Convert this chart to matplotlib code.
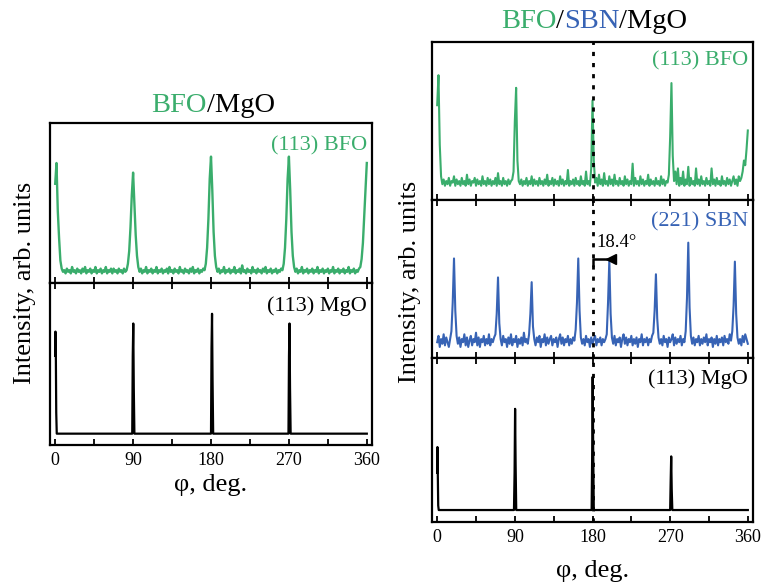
import matplotlib
matplotlib.use("Agg")
import numpy as np
import matplotlib.pyplot as plt
from matplotlib.ticker import MultipleLocator
from matplotlib.offsetbox import TextArea, HPacker, AnnotationBbox

plt.rcParams['font.family'] = ['Liberation Serif', 'DejaVu Serif']

GREEN = '#3aad6c'
BLUE = '#3763b5'

# scan step of the phi scans, 0..360 deg in 1.5 deg steps
scan_phi = np.arange(0, 360.1, 1.5)

# (113) BFO on BFO/MgO, one row = 15 deg
bfo_l_int = [0.62, 0.75, 0.45, 0.28, 0.14, 0.09, 0.07, 0.08, 0.06, 0.09,
             0.07, 0.08, 0.06, 0.10, 0.07, 0.08, 0.06, 0.09, 0.07, 0.08,
             0.06, 0.09, 0.07, 0.10, 0.06, 0.08, 0.07, 0.09, 0.06, 0.08,
             0.07, 0.10, 0.06, 0.08, 0.07, 0.09, 0.06, 0.08, 0.07, 0.10,
             0.06, 0.08, 0.07, 0.09, 0.06, 0.09, 0.07, 0.08, 0.06, 0.09,
             0.07, 0.08, 0.06, 0.09, 0.07, 0.08, 0.12, 0.20, 0.35, 0.55,
             0.69, 0.50, 0.30, 0.17, 0.10, 0.07, 0.09, 0.06, 0.08, 0.07,
             0.10, 0.06, 0.08, 0.07, 0.09, 0.06, 0.08, 0.07, 0.10, 0.06,
             0.08, 0.07, 0.09, 0.06, 0.08, 0.07, 0.09, 0.06, 0.10, 0.07,
             0.08, 0.06, 0.09, 0.07, 0.08, 0.06, 0.10, 0.07, 0.08, 0.06,
             0.09, 0.07, 0.08, 0.06, 0.09, 0.07, 0.10, 0.06, 0.08, 0.07,
             0.09, 0.06, 0.08, 0.07, 0.09, 0.08, 0.12, 0.22, 0.40, 0.65,
             0.79, 0.58, 0.32, 0.17, 0.10, 0.07, 0.09, 0.06, 0.08, 0.07,
             0.10, 0.06, 0.08, 0.07, 0.09, 0.06, 0.08, 0.07, 0.10, 0.06,
             0.08, 0.07, 0.09, 0.06, 0.11, 0.07, 0.08, 0.06, 0.09, 0.07,
             0.08, 0.06, 0.10, 0.07, 0.08, 0.06, 0.09, 0.07, 0.08, 0.06,
             0.09, 0.07, 0.10, 0.06, 0.08, 0.07, 0.09, 0.06, 0.08, 0.07,
             0.09, 0.06, 0.08, 0.07, 0.09, 0.08, 0.12, 0.22, 0.40, 0.65,
             0.79, 0.58, 0.32, 0.17, 0.10, 0.07, 0.09, 0.06, 0.08, 0.07,
             0.10, 0.06, 0.08, 0.07, 0.09, 0.06, 0.08, 0.07, 0.09, 0.06,
             0.08, 0.07, 0.10, 0.06, 0.08, 0.07, 0.09, 0.06, 0.08, 0.07,
             0.09, 0.06, 0.08, 0.07, 0.10, 0.06, 0.08, 0.07, 0.09, 0.06,
             0.08, 0.07, 0.09, 0.06, 0.08, 0.07, 0.10, 0.06, 0.08, 0.07,
             0.09, 0.06, 0.08, 0.07, 0.09, 0.10, 0.15, 0.25, 0.42, 0.60,
             0.75]

# (113) MgO on BFO/MgO (sharp substrate peaks)
mgo_l_phi = [0, 0.3, 0.7, 1.2, 1.8, 89, 89.6, 90.2, 90.8, 91.5,
             180, 180.6, 181.2, 181.8, 182.5, 269.5, 270.1, 270.7, 271.3, 272, 360]
mgo_l_int = [0.55, 0.70, 0.60, 0.20, 0.07, 0.07, 0.55, 0.75, 0.35, 0.07,
             0.07, 0.60, 0.81, 0.40, 0.07, 0.07, 0.55, 0.75, 0.35, 0.07, 0.07]

# (113) BFO on BFO/SBN/MgO
bfo_r_int = [0.60, 0.79, 0.35, 0.15, 0.10, 0.13, 0.09, 0.12, 0.10, 0.14,
             0.09, 0.12, 0.11, 0.15, 0.09, 0.13, 0.10, 0.12, 0.09, 0.14,
             0.10, 0.12, 0.09, 0.16, 0.10, 0.13, 0.09, 0.12, 0.11, 0.14,
             0.09, 0.13, 0.10, 0.12, 0.09, 0.15, 0.10, 0.12, 0.09, 0.14,
             0.10, 0.13, 0.09, 0.12, 0.10, 0.14, 0.09, 0.17, 0.10, 0.12,
             0.09, 0.14, 0.10, 0.12, 0.09, 0.13, 0.10, 0.12, 0.13, 0.18,
             0.50, 0.71, 0.25, 0.12, 0.10, 0.13, 0.09, 0.12, 0.10, 0.14,
             0.09, 0.12, 0.10, 0.15, 0.09, 0.13, 0.10, 0.12, 0.09, 0.14,
             0.10, 0.12, 0.09, 0.13, 0.10, 0.16, 0.09, 0.12, 0.10, 0.14,
             0.09, 0.13, 0.10, 0.12, 0.09, 0.15, 0.10, 0.13, 0.09, 0.12,
             0.10, 0.19, 0.09, 0.12, 0.10, 0.13, 0.09, 0.14, 0.10, 0.12,
             0.09, 0.15, 0.10, 0.12, 0.09, 0.18, 0.10, 0.12, 0.09, 0.20,
             0.63, 0.25, 0.11, 0.14, 0.09, 0.16, 0.10, 0.13, 0.09, 0.17,
             0.10, 0.12, 0.09, 0.15, 0.10, 0.13, 0.09, 0.16, 0.10, 0.12,
             0.09, 0.14, 0.10, 0.12, 0.09, 0.15, 0.10, 0.13, 0.09, 0.12,
             0.10, 0.23, 0.09, 0.14, 0.10, 0.12, 0.09, 0.15, 0.10, 0.13,
             0.09, 0.12, 0.10, 0.16, 0.09, 0.13, 0.10, 0.12, 0.09, 0.14,
             0.10, 0.12, 0.09, 0.15, 0.10, 0.13, 0.09, 0.12, 0.11, 0.16,
             0.40, 0.74, 0.28, 0.12, 0.18, 0.10, 0.20, 0.09, 0.14, 0.10,
             0.18, 0.09, 0.13, 0.10, 0.21, 0.09, 0.14, 0.10, 0.12, 0.09,
             0.20, 0.10, 0.13, 0.09, 0.15, 0.10, 0.12, 0.09, 0.14, 0.10,
             0.12, 0.09, 0.20, 0.10, 0.13, 0.09, 0.14, 0.10, 0.12, 0.09,
             0.15, 0.10, 0.12, 0.09, 0.14, 0.10, 0.13, 0.09, 0.12, 0.15,
             0.10, 0.13, 0.09, 0.15, 0.12, 0.14, 0.18, 0.25, 0.22, 0.32,
             0.44]

# (221) SBN on BFO/SBN/MgO
sbn_int = [0.10, 0.14, 0.07, 0.12, 0.09, 0.15, 0.08, 0.13, 0.10, 0.07,
           0.12, 0.17, 0.35, 0.63, 0.30, 0.14, 0.09, 0.13, 0.07, 0.12,
           0.10, 0.15, 0.08, 0.13, 0.07, 0.11, 0.14, 0.08, 0.12, 0.10,
           0.16, 0.08, 0.13, 0.07, 0.12, 0.10, 0.14, 0.08, 0.12, 0.09,
           0.15, 0.08, 0.12, 0.10, 0.13, 0.15, 0.28, 0.51, 0.22, 0.12,
           0.08, 0.14, 0.10, 0.12, 0.07, 0.13, 0.09, 0.15, 0.08, 0.12,
           0.10, 0.14, 0.07, 0.12, 0.09, 0.13, 0.08, 0.16, 0.10, 0.12,
           0.09, 0.15, 0.28, 0.48, 0.20, 0.12, 0.08, 0.13, 0.10, 0.14,
           0.07, 0.12, 0.10, 0.15, 0.08, 0.13, 0.09, 0.12, 0.14, 0.08,
           0.12, 0.10, 0.13, 0.07, 0.12, 0.15, 0.09, 0.13, 0.08, 0.12,
           0.10, 0.14, 0.08, 0.12, 0.09, 0.13, 0.11, 0.18, 0.35, 0.63,
           0.30, 0.13, 0.09, 0.12, 0.08, 0.14, 0.10, 0.12, 0.07, 0.13,
           0.09, 0.12, 0.14, 0.08, 0.12, 0.10, 0.13, 0.08, 0.12, 0.10,
           0.12, 0.15, 0.35, 0.62, 0.28, 0.13, 0.09, 0.14, 0.08, 0.12,
           0.10, 0.13, 0.07, 0.12, 0.15, 0.09, 0.13, 0.08, 0.12, 0.10,
           0.14, 0.08, 0.12, 0.09, 0.13, 0.07, 0.12, 0.10, 0.15, 0.08,
           0.12, 0.10, 0.13, 0.08, 0.12, 0.10, 0.14, 0.16, 0.30, 0.53,
           0.25, 0.13, 0.09, 0.12, 0.08, 0.14, 0.10, 0.12, 0.07, 0.13,
           0.10, 0.12, 0.15, 0.08, 0.13, 0.09, 0.12, 0.10, 0.14, 0.08,
           0.12, 0.10, 0.17, 0.38, 0.73, 0.32, 0.14, 0.09, 0.13, 0.08,
           0.12, 0.10, 0.14, 0.08, 0.12, 0.09, 0.13, 0.10, 0.15, 0.08,
           0.12, 0.10, 0.13, 0.07, 0.12, 0.09, 0.14, 0.08, 0.12, 0.10,
           0.13, 0.08, 0.14, 0.10, 0.12, 0.09, 0.15, 0.11, 0.17, 0.33,
           0.61, 0.28, 0.13, 0.09, 0.12, 0.08, 0.14, 0.10, 0.15, 0.12,
           0.09]

# (113) MgO on BFO/SBN/MgO
mgo_r_phi = [0, 0.3, 0.7, 1.2, 1.8, 89, 89.7, 90.3, 90.9, 91.6,
             179, 179.6, 180.2, 180.8, 181.5, 270, 270.6, 271.2, 271.8, 272.5, 360]
mgo_r_int = [0.30, 0.457, 0.30, 0.10, 0.073, 0.073, 0.30, 0.69, 0.35, 0.073,
             0.073, 0.40, 0.885, 0.45, 0.073, 0.073, 0.25, 0.40, 0.20, 0.073, 0.073]

rot_start, rot_angle = 180, 18.4
xticks = [0, 90, 180, 270, 360]

W, H = 767, 583
fig = plt.figure(figsize=(W / 100, H / 100), dpi=100)


def box(l, t, r, b):
    # pixel box -> figure fraction
    return [l / W, 1 - b / H, (r - l) / W, (b - t) / H]


def style(ax, bottom_labels, top_ticks):
    ax.set_xlim(-6, 366)
    ax.set_ylim(0, 1)
    ax.set_yticks([])
    ax.xaxis.set_major_locator(MultipleLocator(90))
    ax.xaxis.set_minor_locator(MultipleLocator(45))
    ax.tick_params(axis='x', which='both', direction='in', length=4, width=1.3,
                   top=top_ticks, labelbottom=bottom_labels, labelsize=13, pad=5)
    for s in ax.spines.values():
        s.set_linewidth(1.6)


# left panel
axL1 = fig.add_axes(box(50, 123, 372, 283))
axL2 = fig.add_axes(box(50, 283, 372, 445))
axL1.plot(scan_phi, bfo_l_int, color=GREEN, lw=1.7)
axL2.plot(mgo_l_phi, mgo_l_int, color='black', lw=1.6)
style(axL1, False, False)
style(axL2, True, True)
axL2.set_xticks(xticks)
axL1.text(0.985, 0.86, '(113) BFO', color=GREEN, fontsize=16, ha='right', va='center',
          transform=axL1.transAxes)
axL2.text(0.985, 0.86, '(113) MgO', color='black', fontsize=16, ha='right', va='center',
          transform=axL2.transAxes)
axL2.set_xlabel('φ, deg.', fontsize=19, labelpad=4)

# right panel
axR1 = fig.add_axes(box(432, 42, 753, 200))
axR2 = fig.add_axes(box(432, 200, 753, 358))
axR3 = fig.add_axes(box(432, 358, 753, 522))
axR1.plot(scan_phi, bfo_r_int, color=GREEN, lw=1.5)
axR2.plot(scan_phi, sbn_int, color=BLUE, lw=1.5)
axR3.plot(mgo_r_phi, mgo_r_int, color='black', lw=1.6)
style(axR1, False, False)
style(axR2, False, True)
style(axR3, True, True)
axR3.set_xticks(xticks)
for ax in (axR1, axR2, axR3):
    ax.axvline(rot_start, color='black', lw=2, ls=(0, (1.5, 2.5)), zorder=3)
axR1.text(0.985, 0.88, '(113) BFO', color=GREEN, fontsize=16, ha='right', va='center',
          transform=axR1.transAxes)
axR2.text(0.985, 0.86, '(221) SBN', color=BLUE, fontsize=16, ha='right', va='center',
          transform=axR2.transAxes)
axR3.text(0.985, 0.87, '(113) MgO', color='black', fontsize=16, ha='right', va='center',
          transform=axR3.transAxes)
# rotation marker between 180 and the SBN peak
axR2.plot([rot_start, rot_start, rot_start + rot_angle + 5],
          [0.59, 0.625, 0.625], color='black', lw=1.8, zorder=4)
axR2.plot([rot_start + rot_angle + 3], [0.625], marker='<', ms=7, color='black', zorder=4)
axR2.text(rot_start + 5, 0.73, '%.1f°' % rot_angle, fontsize=13.5, ha='left', va='center')
axR3.set_xlabel('φ, deg.', fontsize=19, labelpad=10)

# y labels
fig.text(25 / W, 1 - 283 / H, 'Intensity, arb. units', rotation=90, fontsize=19,
         ha='center', va='center')
fig.text(410 / W, 1 - 282 / H, 'Intensity, arb. units', rotation=90, fontsize=19,
         ha='center', va='center')


# multi-colour titles
def title(parts, x, y):
    areas = [TextArea(t, textprops=dict(color=c, fontsize=20.5)) for t, c in parts]
    pack = HPacker(children=areas, pad=0, sep=0)
    ab = AnnotationBbox(pack, (x / W, 1 - y / H), xycoords='figure fraction',
                        frameon=False, box_alignment=(0.5, 0.5))
    fig.add_artist(ab)


title([('BFO', GREEN), ('/MgO', 'black')], 213, 105)
title([('BFO', GREEN), ('/', 'black'), ('SBN', BLUE), ('/MgO', 'black')], 594, 22)

fig.savefig('out.png', dpi=100)
